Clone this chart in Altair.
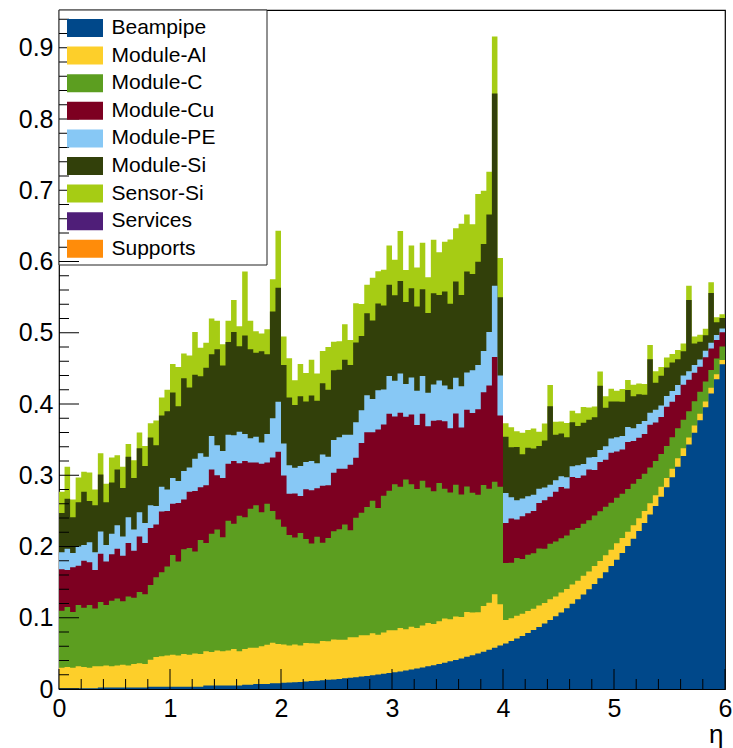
import altair as alt
import pandas as pd

# Material budget (x/X0) per component, in bins of eta of width 0.05 from 0 to 6
BIN_WIDTH = 0.05
Y_MAX = 0.953

components = ["Beampipe", "Module-Al", "Module-C", "Module-Cu",
              "Module-PE", "Module-Si", "Sensor-Si"]
legend_names = components + ["Services", "Supports"]
legend_colors = ["#00488A", "#FDCF2A", "#5C9E20", "#7D0021", "#87C8F5",
                 "#32400A", "#A6CC14", "#4F1E78", "#FF8C0A"]

beampipe = [
    .001, .001, .001, .001, .001, .001, .001, .002, .002, .002,
    .002, .002, .002, .002, .002, .002, .003, .003, .003, .003,
    .003, .003, .003, .003, .003, .003, .005, .005, .005, .005,
    .005, .005, .005, .006, .006, .007, .007, .007, .008, .008,
    .0086, .0091, .0095, .0100, .0105, .0111, .0117, .0123, .0129, .0135,
    .0142, .0150, .0157, .0165, .0174, .0183, .0192, .0202, .0213, .0224,
    .0235, .0247, .0260, .0273, .0287, .0302, .0318, .0334, .0351, .0369,
    .0388, .0408, .0429, .0451, .0474, .0498, .0524, .0551, .0579, .0609,
    .0640, .0673, .0708, .0745, .0785, .0827, .0871, .0918, .0968, .1020,
    .1075, .1133, .1195, .1260, .1328, .1400, .1475, .1555, .1638, .1725,
    .1815, .1910, .2008, .2110, .2218, .2330, .2448, .2570, .2698, .2832,
    .2972, .3118, .3270, .3430, .3598, .3773, .3956, .4148, .4348, .4558,
]

module_al = [
    .029, .030, .029, .031, .030, .029, .031, .030, .031, .030,
    .031, .032, .031, .033, .034, .033, .038, .042, .043, .044,
    .045, .044, .046, .045, .047, .046, .048, .047, .049, .048,
    .049, .051, .048, .050, .052, .051, .053, .055, .057, .055,
    .054, .052, .053, .051, .054, .053, .052, .055, .054, .056,
    .055, .054, .057, .056, .058, .057, .059, .056, .058, .060,
    .059, .061, .058, .060, .057, .059, .061, .058, .060, .062,
    .059, .061, .058, .063, .060, .058, .064, .066, .075, .058,
    .033, .032, .032, .031, .031, .030, .030, .029, .029, .028,
    .028, .027, .027, .026, .026, .025, .025, .024, .024, .023,
    .023, .021, .020, .019, .018, .017, .016, .015, .014, .013,
    .012, .012, .011, .010, .010, .009, .008, .008, .007, .006,
]

module_c = [
    .080, .084, .078, .086, .083, .088, .081, .090, .085, .092,
    .094, .089, .097, .093, .100, .098, .105, .112, .118, .125,
    .140, .132, .147, .150, .143, .160, .152, .166, .170, .160,
    .182, .176, .190, .185, .195, .200, .188, .198, .185, .175,
    .165, .155, .150, .158, .146, .140, .150, .138, .145, .152,
    .155, .162, .150, .168, .172, .180, .186, .178, .192, .196,
    .205, .198, .210, .200, .195, .203, .190, .186, .194, .182,
    .178, .185, .172, .176, .168, .165, .170, .160, .158, .165,
    .080, .078, .081, .077, .079, .078, .080, .076, .078, .077,
    .076, .075, .077, .074, .073, .072, .071, .070, .068, .066,
    .064, .062, .060, .058, .055, .052, .050, .048, .046, .045,
    .044, .042, .040, .037, .034, .031, .028, .025, .022, .019,
]

module_cu = [
    .058, .052, .063, .055, .066, .060, .054, .068, .061, .065,
    .070, .064, .075, .066, .078, .072, .080, .074, .085, .078,
    .072, .082, .070, .079, .085, .074, .081, .090, .076, .083,
    .080, .088, .074, .079, .065, .060, .068, .058, .075, .095,
    .072, .058, .062, .052, .070, .075, .068, .080, .074, .082,
    .085, .078, .092, .084, .098, .105, .096, .110, .100, .108,
    .095, .104, .088, .098, .090, .094, .086, .099, .088, .095,
    .090, .100, .094, .108, .112, .120, .130, .145, .175, .100,
    .056, .062, .054, .060, .058, .059, .064, .068, .066, .070,
    .072, .066, .074, .070, .068, .071, .064, .069, .066, .070,
    .065, .062, .066, .060, .058, .056, .060, .054, .052, .055,
    .050, .047, .049, .044, .040, .035, .034, .030, .026, .020,
]

module_pe = [
    .024, .030, .020, .027, .022, .028, .025, .031, .023, .029,
    .033, .027, .036, .030, .034, .028, .032, .026, .035, .030,
    .036, .031, .040, .034, .045, .048, .040, .047, .042, .038,
    .041, .036, .044, .038, .034, .036, .030, .040, .055, .070,
    .045, .040, .036, .042, .038, .041, .035, .044, .040, .046,
    .044, .048, .042, .050, .046, .052, .047, .055, .049, .053,
    .050, .055, .046, .052, .048, .053, .047, .051, .056, .050,
    .055, .050, .058, .052, .060, .062, .058, .075, .100, .056,
    .042, .030, .027, .025, .024, .023, .020, .018, .017, .016,
    .015, .016, .015, .018, .016, .017, .018, .017, .019, .020,
    .020, .019, .021, .018, .019, .018, .017, .018, .016, .015,
    .015, .014, .013, .012, .011, .010, .009, .008, .007, .005,
]

module_si = [
    .055, .070, .050, .062, .075, .058, .066, .080, .060, .072,
    .078, .068, .085, .072, .090, .080, .095, .085, .100, .110,
    .120, .105, .130, .112, .118, .108, .125, .115, .135, .120,
    .130, .145, .120, .138, .125, .118, .128, .112, .150, .160,
    .110, .095, .088, .098, .085, .092, .088, .100, .094, .098,
    .095, .105, .098, .112, .104, .115, .110, .122, .118, .128,
    .120, .130, .115, .125, .118, .122, .112, .128, .120, .132,
    .120, .135, .128, .142, .135, .145, .150, .165, .270, .110,
    .079, .070, .075, .062, .068, .065, .060, .066, .110, .064,
    .060, .056, .062, .055, .058, .053, .056, .090, .054, .052,
    .050, .048, .052, .045, .042, .037, .075, .038, .042, .040,
    .040, .036, .034, .100, .030, .025, .022, .070, .018, .015,
]

sensor_si = [
    .030, .045, .025, .035, .028, .040, .022, .030, .026, .035,
    .020, .030, .018, .025, .022, .028, .020, .035, .025, .030,
    .040, .055, .035, .045, .060, .040, .035, .050, .040, .030,
    .030, .045, .028, .090, .040, .030, .025, .035, .045, .080,
    .040, .055, .035, .045, .040, .050, .038, .045, .060, .040,
    .040, .050, .035, .055, .045, .040, .060, .045, .050, .055,
    .050, .070, .045, .060, .055, .065, .050, .075, .060, .070,
    .090, .075, .100, .080, .070, .095, .075, .060, .080, .055,
    .019, .028, .022, .030, .025, .028, .020, .024, .030, .018,
    .017, .020, .016, .018, .022, .017, .015, .020, .016, .018,
    .015, .018, .014, .016, .015, .015, .020, .016, .012, .014,
    .012, .013, .011, .020, .010, .010, .009, .015, .007, .005,
]

series = {
    "Beampipe": beampipe,
    "Module-Al": module_al,
    "Module-C": module_c,
    "Module-Cu": module_cu,
    "Module-PE": module_pe,
    "Module-Si": module_si,
    "Sensor-Si": sensor_si,
}

# Axis tick positions
x_major = [0, 1, 2, 3, 4, 5, 6]
x_minor = [0.2, 0.4, 0.6, 0.8, 1.2, 1.4, 1.6, 1.8, 2.2, 2.4, 2.6, 2.8,
           3.2, 3.4, 3.6, 3.8, 4.2, 4.4, 4.6, 4.8, 5.2, 5.4, 5.6, 5.8]
y_major = [0, 0.1, 0.2, 0.3, 0.4, 0.5, 0.6, 0.7, 0.8, 0.9]
y_minor = [round(0.02 * k, 2) for k in range(48) if k % 5 != 0]

# Cumulative stack: each component is drawn from zero up to the running total,
# highest first, so lower components paint over the upper ones.
n_bins = len(beampipe)
running = [0.0] * n_bins
rows = []
for comp in components:
    running = [r + v for r, v in zip(running, series[comp])]
    for j in range(n_bins + 1):
        rows.append({"component": comp,
                     "eta": round(j * BIN_WIDTH, 4),
                     "top": running[min(j, n_bins - 1)]})
stack_df = pd.DataFrame(rows)

FONT = "Liberation Sans"
PLOT_W, PLOT_H = 666, 679
LEGEND_W, LEGEND_H = 208, 255

x_scale = alt.Scale(domain=[0, 6], nice=False, zero=False)
y_scale = alt.Scale(domain=[0, Y_MAX], nice=False, zero=True)
x_axis = alt.Axis(values=x_major, format="d", ticks=False, domain=False, grid=False,
                  labelFont=FONT, labelFontSize=25, labelColor="black",
                  labelPadding=7, labelFlush=False, labelOverlap=False,
                  title="η", titleFont=FONT, titleFontSize=26,
                  titleFontWeight="normal", titleColor="black",
                  titleAnchor="end", titleAlign="right", titleX=664, titleY=53,
                  titleBaseline="alphabetic")
y_axis = alt.Axis(values=y_major, format="~g", ticks=False, domain=False, grid=False,
                  labelFont=FONT, labelFontSize=25, labelColor="black",
                  labelPadding=6, labelFlush=False, labelOverlap=False, title=None)

color_enc = alt.Color(
    "component:N",
    scale=alt.Scale(domain=legend_names, range=legend_colors),
    legend=alt.Legend(
        title=None, orient="none", legendX=0, legendY=0, padding=7.5,
        symbolType="M-1.714,-0.857H1.714V0.857H-1.714Z", symbolSize=441,
        symbolStrokeWidth=0, symbolOpacity=1, symbolOffset=8,
        labelOffset=16, labelFont=FONT, labelFontSize=21, labelColor="black",
        labelLimit=400, rowPadding=5.6,
    ),
)

areas = []
for comp in reversed(components):
    areas.append(
        alt.Chart(stack_df)
        .transform_filter(alt.datum.component == comp)
        .mark_area(interpolate="step-after", opacity=1)
        .encode(x=alt.X("eta:Q", scale=x_scale, axis=x_axis),
                y=alt.Y("top:Q", stack=None, scale=y_scale, axis=y_axis),
                color=color_enc)
    )

# Legend box (white panel with a thin frame) behind the legend entries
legend_box = alt.Chart(pd.DataFrame({"k": [0]})).mark_rect(
    fill="white", stroke="#222222", strokeWidth=1
).encode(x=alt.value(0), x2=alt.value(LEGEND_W), y=alt.value(0), y2=alt.value(LEGEND_H))

# Ticks drawn inside the frame, on top of the histogram
def x_ticks(values, length):
    return alt.Chart(pd.DataFrame({"eta": values})).mark_rule(color="black", strokeWidth=1).encode(
        x=alt.X("eta:Q", scale=x_scale, axis=x_axis),
        y=alt.value(PLOT_H), y2=alt.value(PLOT_H - length))

def y_ticks(values, length):
    return alt.Chart(pd.DataFrame({"top": values})).mark_rule(color="black", strokeWidth=1).encode(
        y=alt.Y("top:Q", scale=y_scale, axis=y_axis),
        x=alt.value(0), x2=alt.value(length))

chart = (
    alt.layer(*areas, legend_box,
              x_ticks(x_major, 20), x_ticks(x_minor, 10),
              y_ticks(y_major, 20), y_ticks(y_minor, 10))
    .properties(width=PLOT_W, height=PLOT_H,
                padding={"left": 59, "top": 10, "right": 8, "bottom": 59},
                autosize=alt.AutoSizeParams(type="none"))
    .configure_view(stroke="black", strokeWidth=1.2)
)

chart.save("out.html", embed_options={"renderer": "svg", "actions": False})
